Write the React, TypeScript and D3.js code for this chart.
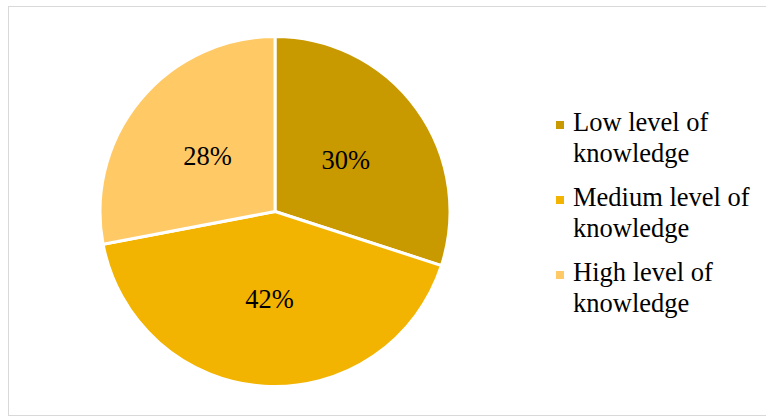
import React from "react";
import * as d3 from "d3";

const categories = ["Low level of knowledge", "Medium level of knowledge", "High level of knowledge"];
const legendLines = [["Low level of", "knowledge"], ["Medium level of", "knowledge"], ["High level of", "knowledge"]];
const values = [30, 42, 28];
const colors = ["#C99A00", "#F2B400", "#FFC966"];

export default function App() {
  const W = 766, H = 417;
  const cx = 275, cy = 211.5, r = 175;
  const pie = d3.pie<number>().sort(null).value((d) => d);
  const arcs = pie(values);
  const arcGen = d3.arc<d3.PieArcDatum<number>>().innerRadius(0).outerRadius(r);
  const labelArc = d3.arc<d3.PieArcDatum<number>>().innerRadius(r * 0.5).outerRadius(r * 0.5);
  const total = d3.sum(values);
  const fontStyle = { fontFamily: "Liberation Serif, Times New Roman, serif" };
  return (
    <svg width={W} height={H} style={{ position: "absolute", left: 0, top: 0 }}>
      <rect x={8.5} y={6.5} width={770} height={409} fill="#fff" stroke="#d9d9d9" strokeWidth={1} />
      <g transform={`translate(${cx},${cy})`}>
        {arcs.map((a, i) => (
          <path key={i} d={arcGen(a) || ""} fill={colors[i]} stroke="#fff" strokeWidth={3} strokeLinejoin="round" />
        ))}
        {arcs.map((a, i) => {
          const [x, y] = labelArc.centroid(a);
          return (
            <text key={i} x={x} y={y + 9} textAnchor="middle" style={fontStyle} fontSize={26.5} fill="#000">
              {Math.round((values[i] / total) * 100)}%
            </text>
          );
        })}
      </g>
      {categories.map((c, i) => {
        const y0 = 131 + i * 75;
        return (
          <g key={c}>
            <rect x={556} y={y0 - 10} width={8} height={8} fill={colors[i]} />
            {legendLines[i].map((ln, j) => (
              <text key={j} x={573} y={y0 + j * 30.5} style={fontStyle} fontSize={26.5} fill="#000">
                {ln}
              </text>
            ))}
          </g>
        );
      })}
    </svg>
  );
}
